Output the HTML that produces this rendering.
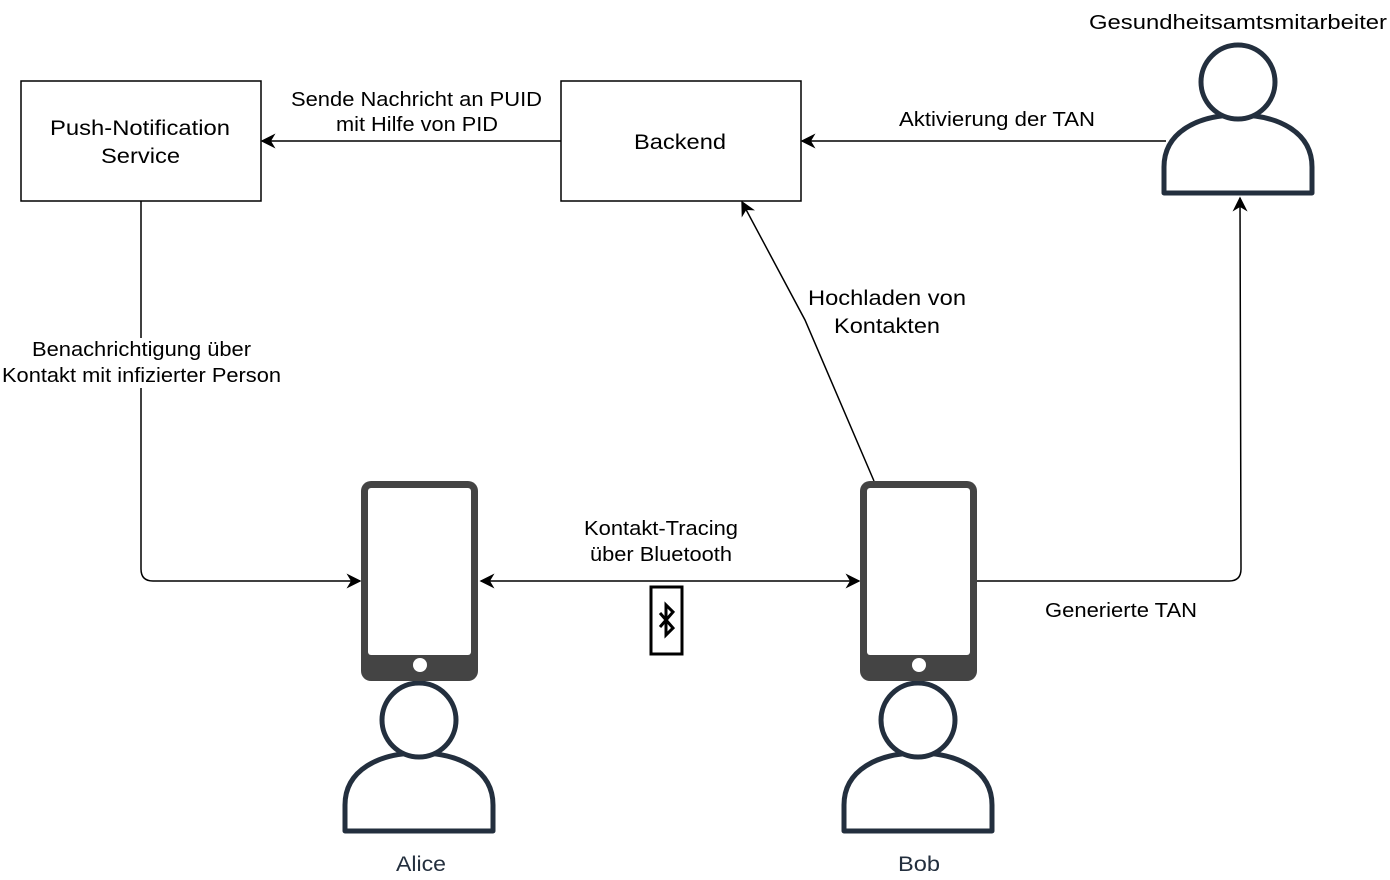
<!DOCTYPE html>
<html><head><meta charset="utf-8"><style>
body{margin:0;background:#fff;}
svg{display:block;font-family:"Liberation Sans",sans-serif;}
</style></head><body>
<svg width="1390" height="880" viewBox="0 0 1390 880">
<defs>
<marker id="a" viewBox="0 0 10 10" refX="9" refY="5" markerWidth="15" markerHeight="15" markerUnits="userSpaceOnUse" orient="auto-start-reverse">
<path d="M0,0 L10,5 L0,10 L3,5 Z" fill="#000"/></marker>
<g id="person">
<path d="M-74,111 L-74,85 C-74,50 -40,33 0,33 C40,33 74,50 74,85 L74,111 Z" fill="#fff" stroke="#232F3E" stroke-width="5" stroke-linejoin="round"/>
<circle cx="0" cy="0" r="37" fill="#fff" stroke="#232F3E" stroke-width="5"/>
</g>
<g id="phone">
<rect x="0" y="0" width="117" height="200" rx="10" fill="#444"/>
<rect x="7" y="7" width="103" height="167" rx="3" fill="#fff"/>
<circle cx="59" cy="184" r="7" fill="#fff"/>
</g>
</defs>
<rect x="21" y="81" width="240" height="120" fill="#fff" stroke="#000" stroke-width="1.5"/>
<rect x="561" y="81" width="240" height="120" fill="#fff" stroke="#000" stroke-width="1.5"/>
<g fill="none" stroke="#000" stroke-width="1.5">
<line x1="561" y1="141" x2="262" y2="141" marker-end="url(#a)"/>
<line x1="1166" y1="141" x2="802" y2="141" marker-end="url(#a)"/>
<path d="M141,201 L141,569 Q141,581 153,581 L360,581" marker-end="url(#a)"/>
<line x1="481" y1="581" x2="859" y2="581" marker-start="url(#a)" marker-end="url(#a)"/>
<path d="M977,581 L1229,581 Q1241,581 1241,569 L1240,198" marker-end="url(#a)"/>
<path d="M874,481 L805,320 L742,202" marker-end="url(#a)"/>
</g>
<g font-size="20" lengthAdjust="spacingAndGlyphs">
<text x="50" y="135" font-size="21" textLength="180" lengthAdjust="spacingAndGlyphs">Push-Notification</text>
<text x="101" y="163" font-size="21" textLength="79" lengthAdjust="spacingAndGlyphs">Service</text>
<text x="634" y="149" font-size="21" textLength="92" lengthAdjust="spacingAndGlyphs">Backend</text>
<text x="291" y="106" textLength="251" lengthAdjust="spacingAndGlyphs">Sende Nachricht an PUID</text>
<text x="336" y="131" textLength="162" lengthAdjust="spacingAndGlyphs">mit Hilfe von PID</text>
<text x="899" y="126" textLength="196" lengthAdjust="spacingAndGlyphs">Aktivierung der TAN</text>
<text x="1089" y="29" textLength="298" lengthAdjust="spacingAndGlyphs">Gesundheitsamtsmitarbeiter</text>
<rect x="0" y="338" width="284" height="50" fill="#fff"/>
<text x="32" y="356" textLength="219" lengthAdjust="spacingAndGlyphs">Benachrichtigung über</text>
<text x="2" y="382" textLength="279" lengthAdjust="spacingAndGlyphs">Kontakt mit infizierter Person</text>
<text x="808" y="305" font-size="21" textLength="158" lengthAdjust="spacingAndGlyphs">Hochladen von</text>
<text x="834" y="333" font-size="21" textLength="106" lengthAdjust="spacingAndGlyphs">Kontakten</text>
<text x="584" y="535" textLength="154" lengthAdjust="spacingAndGlyphs">Kontakt-Tracing</text>
<text x="590" y="561" textLength="142" lengthAdjust="spacingAndGlyphs">über Bluetooth</text>
<text x="1045" y="617" textLength="152" lengthAdjust="spacingAndGlyphs">Generierte TAN</text>
<text x="396" y="871" font-size="21" fill="#232F3E" textLength="50" lengthAdjust="spacingAndGlyphs">Alice</text>
<text x="898" y="871" font-size="21" fill="#232F3E" textLength="42" lengthAdjust="spacingAndGlyphs">Bob</text>
</g>
<rect x="651" y="587" width="31" height="67" fill="#fff" stroke="#000" stroke-width="3"/>
<path d="M660,613 L673,628 L666,635 L666,605 L673,612 L660,627" fill="none" stroke="#000" stroke-width="3"/>
<use href="#person" x="1238" y="82"/>
<use href="#person" x="419" y="720"/>
<use href="#person" x="918" y="720"/>
<use href="#phone" x="361" y="481"/>
<use href="#phone" x="860" y="481"/>
</svg>
</body></html>
